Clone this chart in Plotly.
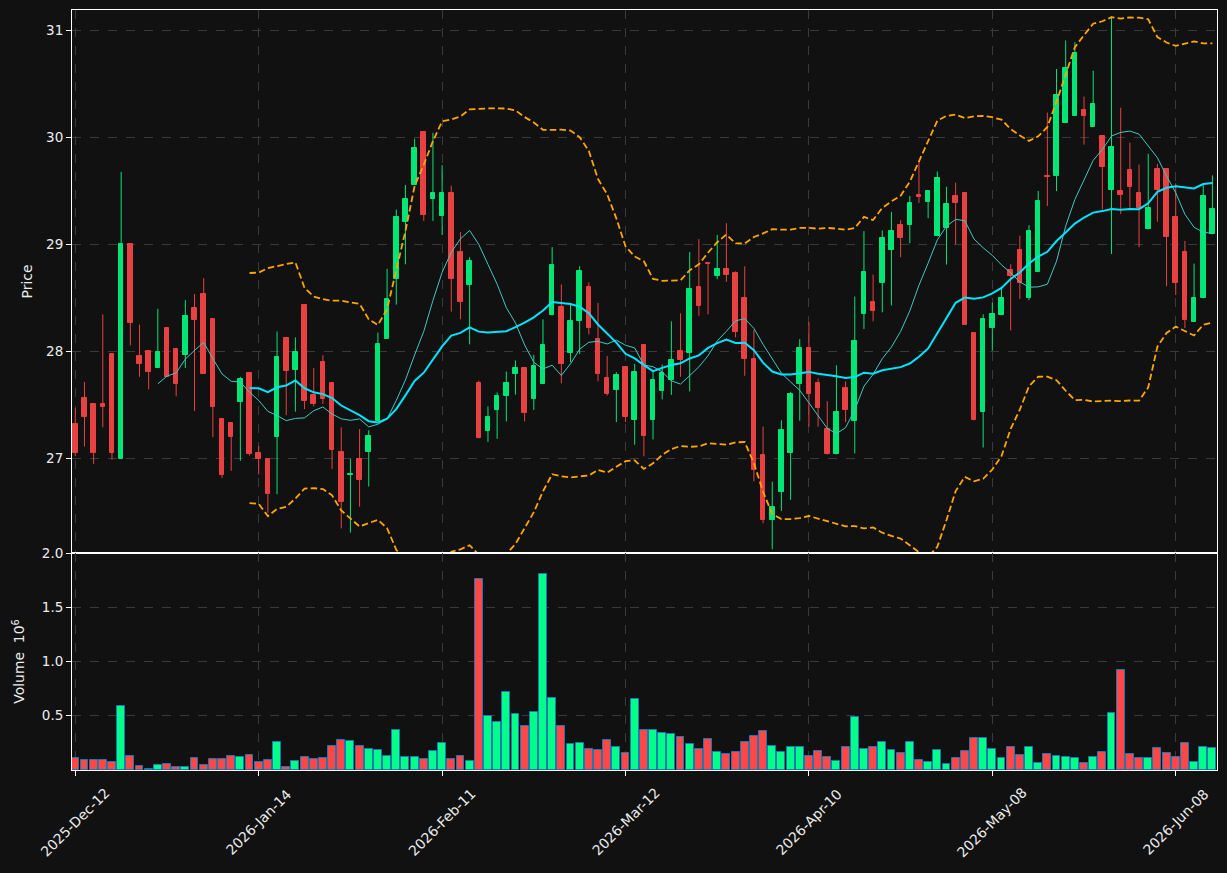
import numpy as np
import pandas as pd
import plotly.graph_objects as go

# ---------------- data ----------------
opens = [27.323, 27.567, 27.508, 27.508, 27.977, 27.000, 29.005, 27.957, 28.003, 27.850,
         28.221, 28.026, 27.967, 28.410, 28.540, 28.306, 27.368, 27.333, 27.531, 27.798,
         27.050, 27.000, 27.202, 28.127, 27.830, 28.436, 27.596, 27.902, 27.707, 27.059,
         26.848, 26.994, 27.062, 27.349, 28.120, 28.683, 29.213, 29.555, 30.047, 29.428,
         29.262, 29.484, 28.934, 28.618, 27.707, 27.261, 27.456, 27.586, 27.795, 27.847,
         27.560, 27.700, 28.338, 28.419, 27.990, 28.289, 28.605, 28.117, 27.752, 27.645,
         27.856, 27.359, 28.061, 27.359, 27.635, 27.733, 28.003, 27.987, 28.605, 28.829,
         28.703, 28.774, 28.735, 28.501, 27.935, 27.033, 26.428, 26.685, 27.050, 27.697,
         28.036, 27.707, 27.277, 27.043, 27.658, 27.355, 28.354, 28.465, 28.644, 28.947,
         29.178, 29.181, 29.467, 29.396, 29.077, 29.155, 29.458, 29.477, 28.175, 27.433,
         28.221, 28.345, 28.758, 28.947, 28.498, 28.748, 29.640, 29.637, 30.134, 30.199,
         30.252, 30.099, 30.011, 29.506, 29.503, 29.692, 29.484, 29.142, 29.702, 29.702,
         29.259, 28.934, 28.280, 28.498, 29.096]
highs = [27.472, 27.717, 27.510, 28.348, 27.980, 29.679, 29.005, 28.253, 28.003, 28.400,
         28.221, 28.026, 28.481, 28.537, 28.686, 28.306, 27.368, 27.333, 27.765, 27.798,
         27.121, 27.000, 28.188, 28.127, 28.133, 28.436, 27.847, 27.967, 27.707, 27.294,
         27.000, 27.277, 27.267, 28.179, 28.774, 29.327, 29.555, 29.988, 30.047, 30.043,
         29.741, 29.549, 29.116, 28.882, 27.730, 27.489, 27.619, 27.814, 27.918, 27.847,
         27.970, 28.302, 28.976, 28.628, 28.439, 28.797, 28.647, 28.455, 27.960, 27.808,
         27.856, 27.886, 28.061, 27.814, 27.879, 28.283, 28.358, 28.930, 29.051, 28.829,
         29.090, 29.200, 28.750, 28.797, 28.205, 27.300, 26.786, 27.359, 27.625, 28.117,
         28.276, 27.749, 27.538, 27.873, 27.723, 28.514, 29.126, 28.719, 29.132, 29.305,
         29.227, 29.454, 29.776, 29.503, 29.682, 29.539, 29.578, 29.477, 28.175, 28.348,
         28.459, 28.595, 28.816, 29.083, 29.181, 29.500, 30.232, 30.639, 30.906, 30.889,
         30.382, 30.623, 30.011, 31.133, 30.278, 29.952, 29.747, 29.848, 29.754, 29.702,
         29.571, 29.034, 28.823, 29.555, 29.646]
lows = [27.023, 27.115, 26.952, 27.294, 26.991, 27.000, 28.058, 27.765, 27.648, 27.850,
        27.765, 27.583, 27.847, 27.446, 27.791, 27.202, 26.822, 26.887, 26.981, 27.030,
        26.854, 26.496, 26.669, 27.407, 27.440, 27.463, 27.489, 27.512, 26.903, 26.350,
        26.311, 26.552, 26.740, 27.349, 28.120, 28.439, 28.816, 29.555, 29.220, 29.220,
        29.090, 28.374, 28.302, 28.068, 27.190, 27.157, 27.186, 27.349, 27.599, 27.349,
        27.456, 27.700, 28.338, 27.704, 27.902, 27.977, 28.162, 27.723, 27.590, 27.342,
        27.342, 27.131, 27.023, 27.180, 27.554, 27.596, 27.765, 27.629, 28.335, 28.348,
        28.677, 28.651, 28.133, 27.775, 26.789, 26.399, 26.155, 26.513, 26.617, 27.355,
        27.300, 27.300, 27.040, 27.040, 27.342, 27.050, 28.211, 28.283, 28.367, 28.432,
        28.882, 29.012, 29.389, 29.246, 29.077, 28.813, 29.002, 28.253, 27.359, 27.105,
        28.009, 28.340, 28.198, 28.491, 28.481, 28.748, 29.360, 29.500, 30.134, 30.199,
        29.933, 30.099, 29.327, 28.911, 29.285, 29.344, 28.976, 29.142, 29.213, 28.611,
        28.530, 28.221, 28.280, 28.498, 29.096]
closes = [27.050, 27.391, 27.050, 27.486, 27.050, 29.005, 28.270, 27.889, 27.814, 27.993,
          27.765, 27.700, 28.335, 28.299, 27.791, 27.486, 26.848, 27.202, 27.743, 27.043,
          27.000, 26.675, 27.951, 27.821, 27.996, 27.538, 27.512, 27.560, 27.082, 26.594,
          26.861, 26.805, 27.209, 28.068, 28.491, 29.259, 29.428, 29.897, 29.279, 29.484,
          29.484, 28.683, 28.459, 28.849, 27.196, 27.388, 27.583, 27.707, 27.847, 27.430,
          27.866, 28.061, 28.810, 27.889, 28.286, 28.755, 28.224, 27.795, 27.603, 27.782,
          27.391, 27.814, 27.212, 27.733, 27.798, 27.922, 27.922, 28.585, 28.423, 28.820,
          28.774, 28.712, 28.188, 27.935, 26.893, 26.428, 26.552, 27.267, 27.603, 28.036,
          27.603, 27.476, 27.043, 27.440, 27.456, 28.101, 28.742, 28.384, 29.064, 29.129,
          29.057, 29.389, 29.441, 29.503, 29.623, 29.379, 29.386, 28.253, 27.359, 28.306,
          28.351, 28.501, 28.709, 28.644, 29.129, 29.409, 29.633, 30.401, 30.645, 30.785,
          30.199, 30.310, 29.721, 29.907, 29.461, 29.536, 29.344, 29.344, 29.506, 29.067,
          28.644, 28.299, 28.501, 29.458, 29.334]
volume_millions = [0.107, 0.089, 0.089, 0.089, 0.070, 0.588, 0.126, 0.034, 0.009, 0.043,
                   0.052, 0.025, 0.025, 0.107, 0.043, 0.098, 0.098, 0.126, 0.116, 0.135,
                   0.070, 0.089, 0.254, 0.025, 0.080, 0.116, 0.098, 0.107, 0.218, 0.273,
                   0.263, 0.218, 0.190, 0.181, 0.126, 0.365, 0.116, 0.116, 0.098, 0.172,
                   0.245, 0.098, 0.126, 0.080, 1.762, 0.502, 0.447, 0.723, 0.512, 0.401,
                   0.539, 1.808, 0.668, 0.401, 0.236, 0.245, 0.190, 0.181, 0.273, 0.208,
                   0.153, 0.659, 0.365, 0.365, 0.337, 0.328, 0.300, 0.236, 0.190, 0.282,
                   0.162, 0.144, 0.162, 0.254, 0.309, 0.355, 0.218, 0.162, 0.208, 0.208,
                   0.126, 0.172, 0.116, 0.080, 0.208, 0.493, 0.190, 0.208, 0.254, 0.181,
                   0.153, 0.254, 0.089, 0.070, 0.181, 0.052, 0.107, 0.172, 0.291, 0.291,
                   0.190, 0.107, 0.208, 0.135, 0.208, 0.061, 0.144, 0.126, 0.116, 0.107,
                   0.061, 0.116, 0.162, 0.530, 0.925, 0.144, 0.107, 0.107, 0.199, 0.153,
                   0.116, 0.245, 0.070, 0.208, 0.199]
tick_labels = ["2025-Dec-12", "2026-Jan-14", "2026-Feb-11", "2026-Mar-12",
               "2026-Apr-10", "2026-May-08", "2026-Jun-08"]
price_ticks = [27, 28, 29, 30, 31]
volume_ticks = [0.5, 1.0, 1.5, 2.0]

# ---------------- style ----------------
BG = "#111111"
UP, DOWN = "#00e676", "#e84142"
VUP, VDOWN = "#00ff88", "#ff4747"
VEDGE = "#1f77b4"
GRID = "#3a3a3a"
TXT = "#ececec"
FONT = "DejaVu Sans"
FS = 13.9

n = len(closes)
idx = np.arange(n)
o = np.array(opens); h = np.array(highs); l = np.array(lows); c = np.array(closes)
up = c >= o

# indicators (as in the original: moving averages 10/20, Bollinger 20, 2 std)
cs = pd.Series(c)
mav10 = cs.rolling(10).mean()
mav20 = cs.rolling(20).mean()
std20 = cs.rolling(20).std(ddof=0)
bb_up = mav20 + 2 * std20
bb_lo = mav20 - 2 * std20

fig = go.Figure()

# wicks
for mask, col in ((up, UP), (~up, DOWN)):
    xs, ys = [], []
    for i in idx[mask]:
        xs += [i, i, None]
        ys += [l[i], h[i], None]
    fig.add_trace(go.Scatter(x=xs, y=ys, mode="lines", line=dict(color=col, width=1),
                             hoverinfo="skip", showlegend=False, xaxis="x", yaxis="y"))

# bodies
body_base = np.minimum(o, c)
body_h = np.abs(c - o)
body_col = [UP if u else DOWN for u in up]
fig.add_trace(go.Bar(x=idx, y=body_h, base=body_base, width=0.5,
                     marker=dict(color=body_col, line=dict(color=body_col, width=1)),
                     showlegend=False, xaxis="x", yaxis="y"))

# moving averages and bands
fig.add_trace(go.Scatter(x=idx, y=mav10, mode="lines", line=dict(color="#3fc9c4", width=1),
                         showlegend=False, xaxis="x", yaxis="y"))
fig.add_trace(go.Scatter(x=idx, y=mav20, mode="lines", line=dict(color="#00e5ff", width=2),
                         showlegend=False, xaxis="x", yaxis="y"))
for band in (bb_up, bb_lo):
    fig.add_trace(go.Scatter(x=idx, y=band, mode="lines",
                             line=dict(color="#ffa500", width=1.8, dash="6.5px,3.2px"),
                             showlegend=False, xaxis="x", yaxis="y"))

# volume
vcol = [VUP if u else VDOWN for u in up]
fig.add_trace(go.Bar(x=idx, y=volume_millions, width=0.86,
                     marker=dict(color=vcol, line=dict(color=VEDGE, width=1)),
                     showlegend=False, xaxis="x2", yaxis="y2"))

tickpos = list(range(0, n, 20))[:len(tick_labels)]
split = 217 / 760

axis_common = dict(showline=True, linecolor="#ffffff", linewidth=1, mirror=True,
                   showgrid=True, gridcolor=GRID, griddash="dash", gridwidth=1,
                   zeroline=False, tickfont=dict(family=FONT, size=13.5, color=TXT),
                   ticklen=5, tickcolor="#ffffff", automargin=False)

xr = [-0.36, 124.5]
fig.update_layout(
    width=1227, height=873,
    margin=dict(l=72, r=10, t=10, b=103, autoexpand=False),
    paper_bgcolor=BG, plot_bgcolor=BG,
    font=dict(family=FONT, color=TXT, size=12),
    bargap=0, barmode="overlay",
    xaxis=dict(domain=[0, 1], anchor="y", range=xr, tickvals=tickpos,
               showticklabels=False, ticks="", **axis_common),
    xaxis2=dict(domain=[0, 1], anchor="y2", range=xr, matches="x", tickvals=tickpos,
                showticklabels=False, ticks="outside", **axis_common),
    yaxis=dict(domain=[split, 1], anchor="x", range=[26.12, 31.19], tickvals=price_ticks,
               ticktext=[str(t) for t in price_ticks], ticks="outside",
               title=dict(text="Price", font=dict(family=FONT, size=FS, color=TXT), standoff=10),
               **axis_common),
    yaxis2=dict(domain=[0, split], anchor="x2", range=[0.0, 2.0], tickvals=volume_ticks,
                ticktext=["0.5", "1.0", "1.5", "2.0"], ticks="outside",
                title=dict(text="Volume  10<sup>6</sup>", font=dict(family=FONT, size=FS, color=TXT),
                           standoff=13),
                **axis_common),
)

# rotated date labels centred under their ticks
for pos, lab in zip(tickpos, tick_labels):
    fig.add_annotation(x=pos, y=-0.0684, xref="x2", yref="paper", text=lab, showarrow=False,
                       textangle=-45, xanchor="center", yanchor="middle",
                       font=dict(family=FONT, size=FS, color=TXT))

fig.write_html("out.html")
